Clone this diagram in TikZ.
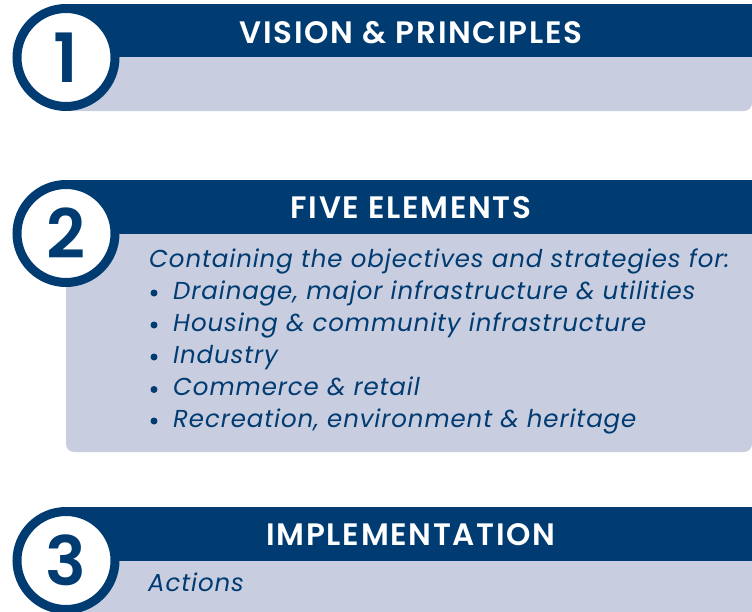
\documentclass[tikz,border=0pt]{standalone}
\usepackage{fontspec}
\setmainfont{Poppins}
\newfontfamily\titlefont{Poppins SemiBold}[LetterSpace=5.5]
\newfontfamily\numfont{Poppins SemiBold}
\newfontfamily\bodyfont{Poppins Italic}[LetterSpace=3.6]
\definecolor{navy}{RGB}{0,59,113}
\definecolor{pale}{RGB}{200,205,224}
\tikzset{
  headbar/.style={fill=navy},
  bodybox/.style={fill=pale, rounded corners=8},
  numring/.style={circle, draw=navy, line width=9pt, fill=white, minimum size=98pt, inner sep=0pt, text=navy, font=\numfont\fontsize{68}{68}\selectfont},
  titletext/.style={text=white, font=\titlefont\fontsize{31}{31}\selectfont, anchor=base, inner sep=0pt},
  bodytext/.style={text=navy, font=\bodyfont\fontsize{24.5}{24.5}\selectfont, anchor=base west, inner sep=0pt},
  bulletdot/.style={circle, fill=navy, minimum size=7pt, inner sep=0pt}
}
\begin{document}
\begin{tikzpicture}[x=1pt,y=-1pt]
\useasboundingbox (0,0) rectangle (752,611);
\clip (0,0) rectangle (752,611);
% Box 1
\fill[bodybox] (66,40) rectangle (752,111);
\fill[headbar] (66,4) rectangle (752,57);
\node[numring] (c1) at (66,57.5) {1};
\node[titletext] (t1) at (411,43.5) {VISION \& PRINCIPLES};
% Box 2
\fill[bodybox] (66,215) rectangle (752,452);
\fill[headbar] (66,180) rectangle (752,234);
\node[numring] (c2) at (66,233.5) {2};
\node[titletext] (t2) at (411,218.5) {FIVE ELEMENTS};
\node[bodytext] (b0) at (149,267) {Containing the objectives and strategies for:};
\node[bulletdot] (d1) at (154,293) {};
\node[bodytext] (b1) at (173,299) {Drainage, major infrastructure \& utilities};
\node[bulletdot] (d2) at (154,325) {};
\node[bodytext] (b2) at (173,331) {Housing \& community infrastructure};
\node[bulletdot] (d3) at (154,357) {};
\node[bodytext] (b3) at (173,363) {Industry};
\node[bulletdot] (d4) at (154,389.5) {};
\node[bodytext] (b4) at (173,395.5) {Commerce \& retail};
\node[bulletdot] (d5) at (154,421) {};
\node[bodytext] (b5) at (173,427) {Recreation, environment \& heritage};
% Box 3
\fill[bodybox] (66,540) rectangle (752,640);
\fill[headbar] (66,507) rectangle (752,561);
\node[numring] (c3) at (66,560.5) {3};
\node[titletext] (t3) at (411,545) {IMPLEMENTATION};
\node[bodytext] (b6) at (148,591.5) {Actions};
\end{tikzpicture}
\end{document}
